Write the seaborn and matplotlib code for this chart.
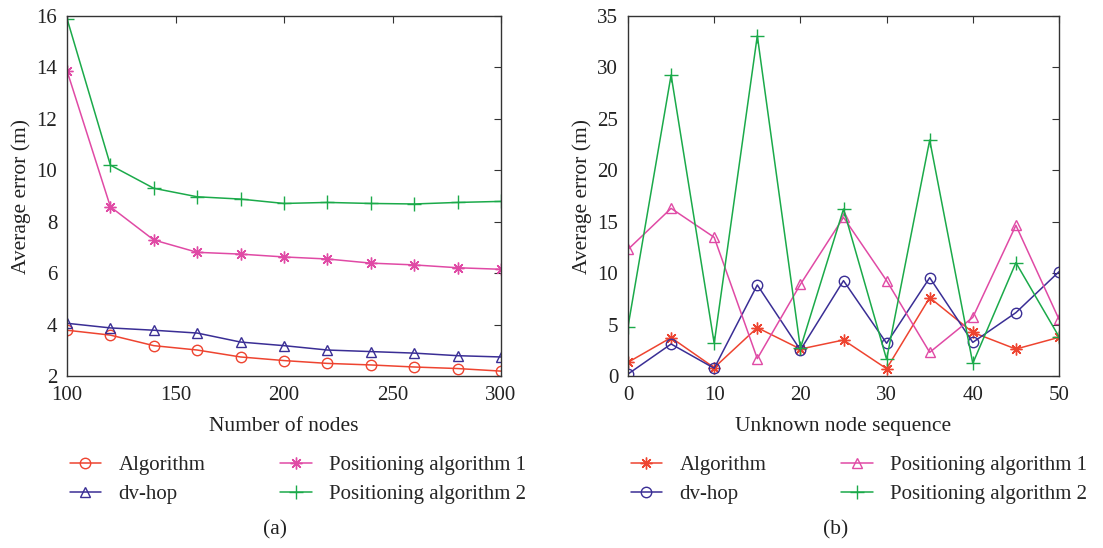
import matplotlib
matplotlib.use("Agg")
import matplotlib.pyplot as plt
import seaborn as sns
import pandas as pd

# ---- data: panel (a) ----
nodes = [100, 120, 140, 160, 180, 200, 220, 240, 260, 280, 300]
a_algorithm = [3.78, 3.59, 3.18, 3.01, 2.74, 2.60, 2.49, 2.43, 2.35, 2.29, 2.19]
a_dvhop = [4.05, 3.87, 3.78, 3.67, 3.32, 3.18, 3.01, 2.95, 2.89, 2.79, 2.74]
a_pos1 = [13.87, 8.58, 7.29, 6.81, 6.74, 6.63, 6.55, 6.39, 6.32, 6.21, 6.15]
a_pos2 = [15.9, 10.2, 9.3, 8.97, 8.88, 8.71, 8.75, 8.71, 8.69, 8.75, 8.79]

# ---- data: panel (b) ----
seq = [0, 5, 10, 15, 20, 25, 30, 35, 40, 45, 50]
b_algorithm = [1.33, 3.73, 0.81, 4.70, 2.62, 3.50, 0.71, 7.62, 4.24, 2.62, 3.76]
b_dvhop = [0.19, 3.11, 0.75, 8.85, 2.53, 9.27, 3.18, 9.56, 3.27, 6.16, 10.14]
b_pos1 = [12.31, 16.3, 13.48, 1.69, 8.91, 15.42, 9.27, 2.30, 5.70, 14.65, 5.51]
b_pos2 = [4.8, 29.26, 3.18, 33.08, 2.69, 16.23, 1.62, 22.94, 1.23, 11.02, 3.82]

labels = ["Algorithm", "dv-hop", "Positioning algorithm 1", "Positioning algorithm 2"]
RED, BLUE, PINK, GREEN = "#EE4430", "#3A2E95", "#E04AA5", "#1BAA4A"

sns.set_theme(style="white")
plt.rcParams["font.family"] = ["Liberation Serif", "DejaVu Serif"]

fig = plt.figure(figsize=(11.03, 5.48), dpi=100)
W, H = 1103, 548
axA = fig.add_axes([67 / W, 1 - 376 / H, (501 - 67) / W, (376 - 16) / H])
axB = fig.add_axes([628 / W, 1 - 376 / H, (1059 - 628) / W, (376 - 16) / H])

ASTER = (8, 2, 0)

def draw(ax, x, series, styles):
    handles = []
    for y, lab, (col, mk, ms) in zip(series, labels, styles):
        df = pd.DataFrame({"x": x, "y": y})
        sns.lineplot(data=df, x="x", y="y", ax=ax, color=col, marker=mk,
                     markersize=ms, markerfacecolor="none", markeredgecolor=col,
                     markeredgewidth=1.0, linewidth=1.1, label=lab, legend=False)
        handles.append(ax.lines[-1])
    return handles

hA = draw(axA, nodes, [a_algorithm, a_dvhop, a_pos1, a_pos2],
          [(RED, "o", 7.5), (BLUE, "^", 7.5), (PINK, ASTER, 8.5), (GREEN, "+", 9.5)])
hB = draw(axB, seq, [b_algorithm, b_dvhop, b_pos1, b_pos2],
          [(RED, ASTER, 8.5), (BLUE, "o", 7.5), (PINK, "^", 7.5), (GREEN, "+", 9.5)])

for ax in (axA, axB):
    for s in ax.spines.values():
        s.set_visible(True)
        s.set_color("#333333")
        s.set_linewidth(1.0)
    ax.tick_params(direction="in", top=True, right=True, length=5, width=0.8,
                   labelsize=15, colors="#333333", labelcolor="#222222")
    ax.tick_params(axis="x", pad=7)
    ax.tick_params(axis="y", pad=7)

axA.set_xlim(100, 300)
axA.set_ylim(2, 16)
axA.set_xticks([100, 150, 200, 250, 300])
axA.set_yticks([2, 4, 6, 8, 10, 12, 14, 16])
axA.set_xlabel("Number of nodes", fontsize=15.5, color="#222222", labelpad=9)
axA.set_ylabel("Average error (m)", fontsize=15.5, color="#222222", labelpad=4)

axB.set_xlim(0, 50)
axB.set_ylim(0, 35)
axB.set_xticks([0, 10, 20, 30, 40, 50])
axB.set_yticks([0, 5, 10, 15, 20, 25, 30, 35])
axB.set_xlabel("Unknown node sequence", fontsize=15.5, color="#222222", labelpad=9)
axB.set_ylabel("Average error (m)", fontsize=15.5, color="#222222", labelpad=4)

legkw = dict(ncol=2, frameon=False, fontsize=15, handlelength=1.5,
             handletextpad=0.85, columnspacing=3.6, labelspacing=0.45,
             borderaxespad=0, borderpad=0)
fig.legend(hA, labels, loc="center", bbox_to_anchor=(298 / W, 1 - 480 / H), **legkw)
fig.legend(hB, labels, loc="center", bbox_to_anchor=(859 / W, 1 - 480 / H), **legkw)

fig.text(275 / W, 1 - 530 / H, "(a)", ha="center", va="center", fontsize=15.5, color="#222222")
fig.text(836 / W, 1 - 530 / H, "(b)", ha="center", va="center", fontsize=15.5, color="#222222")

fig.savefig("out.png", dpi=100)
